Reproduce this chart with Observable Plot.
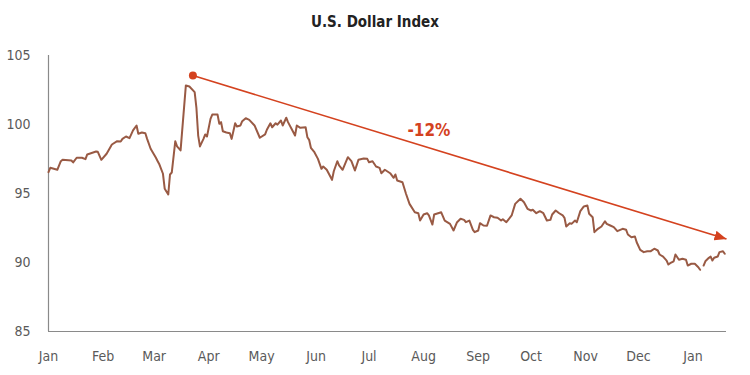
<!DOCTYPE html>
<html>
<head>
<meta charset="utf-8">
<script src="https://cdn.jsdelivr.net/npm/d3@7"></script>
<script src="https://cdn.jsdelivr.net/npm/@observablehq/plot@0.6"></script>
<style>
  html, body { margin: 0; padding: 0; background: #fff; }
  #title { height: 40px; line-height: 44px; text-align: center; font-family: 'Liberation Sans Narrow', 'DejaVu Sans Condensed', 'Roboto', sans-serif; font-weight: bold; font-size: 15px; color: #222; }
</style>
</head>
<body>
<div id="title">U.S. Dollar Index</div>
<div id="chart"></div>
<script>
const titleText = "U.S. Dollar Index";

const dates = [
"2020-01-01","2020-01-02","2020-01-06","2020-01-08","2020-01-09","2020-01-14","2020-01-15","2020-01-17","2020-01-20","2020-01-22","2020-01-23","2020-01-28","2020-01-29","2020-01-31",
"2020-02-03","2020-02-06","2020-02-09","2020-02-11","2020-02-12","2020-02-14","2020-02-16","2020-02-18","2020-02-20","2020-02-21","2020-02-23","2020-02-25","2020-02-26","2020-02-28",
"2020-03-02","2020-03-03","2020-03-04","2020-03-06","2020-03-07","2020-03-09","2020-03-10","2020-03-11","2020-03-13","2020-03-14","2020-03-16","2020-03-19","2020-03-21","2020-03-24","2020-03-25","2020-03-26","2020-03-27","2020-03-29","2020-03-30","2020-03-31",
"2020-04-02","2020-04-03","2020-04-06","2020-04-07","2020-04-08","2020-04-09","2020-04-11","2020-04-13","2020-04-14","2020-04-16","2020-04-17","2020-04-19","2020-04-20","2020-04-22","2020-04-24","2020-04-27","2020-04-30",
"2020-05-03","2020-05-04","2020-05-06","2020-05-07","2020-05-09","2020-05-10","2020-05-12","2020-05-13","2020-05-15","2020-05-16","2020-05-18","2020-05-20","2020-05-21","2020-05-23","2020-05-26","2020-05-27","2020-05-28","2020-05-29","2020-05-31",
"2020-06-02","2020-06-04","2020-06-05","2020-06-07","2020-06-10","2020-06-11","2020-06-13","2020-06-14","2020-06-16","2020-06-19","2020-06-21","2020-06-23","2020-06-25","2020-06-28","2020-06-30",
"2020-07-01","2020-07-03","2020-07-05","2020-07-07","2020-07-08","2020-07-10","2020-07-13","2020-07-15","2020-07-16","2020-07-17","2020-07-20","2020-07-22","2020-07-24","2020-07-27","2020-07-29","2020-07-30",
"2020-08-01","2020-08-03","2020-08-04","2020-08-06","2020-08-07","2020-08-11","2020-08-13","2020-08-16","2020-08-18","2020-08-20","2020-08-22","2020-08-24","2020-08-25","2020-08-27","2020-08-29","2020-08-30",
"2020-09-01","2020-09-02","2020-09-04","2020-09-06","2020-09-08","2020-09-10","2020-09-12","2020-09-14","2020-09-15","2020-09-17","2020-09-20","2020-09-22","2020-09-25","2020-09-27","2020-09-29",
"2020-10-01","2020-10-02","2020-10-04","2020-10-06","2020-10-08","2020-10-10","2020-10-12","2020-10-13","2020-10-15","2020-10-17","2020-10-19","2020-10-20","2020-10-21","2020-10-23","2020-10-24","2020-10-26","2020-10-27","2020-10-29","2020-10-31",
"2020-11-02","2020-11-03","2020-11-05","2020-11-06","2020-11-08","2020-11-10","2020-11-12","2020-11-13","2020-11-15","2020-11-17","2020-11-19","2020-11-22","2020-11-24","2020-11-25","2020-11-27","2020-11-29","2020-11-30",
"2020-12-02","2020-12-04","2020-12-06","2020-12-08","2020-12-10","2020-12-12","2020-12-13","2020-12-15","2020-12-17","2020-12-18","2020-12-19","2020-12-21","2020-12-22","2020-12-24","2020-12-26","2020-12-28","2020-12-29","2020-12-31",
"2021-01-02","2021-01-04","2021-01-05","2021-01-06","2021-01-07","2021-01-08","2021-01-10","2021-01-11","2021-01-12","2021-01-13","2021-01-15","2021-01-16","2021-01-18","2021-01-19"
];

const values = [
96.55,96.86,96.72,97.34,97.44,97.39,97.25,97.59,97.59,97.49,97.83,98.04,98.02,97.44,
97.88,98.55,98.79,98.77,98.96,99.13,99.01,99.57,99.93,99.33,99.42,99.37,98.96,98.24,
97.59,97.34,97.10,96.43,95.34,94.93,96.38,96.52,98.79,98.41,98.12,102.83,102.75,102.35,101.2,99.2,98.41,98.96,99.28,99.13,
100.41,100.72,100.72,100.05,100.17,99.51,99.42,99.37,98.96,100.09,99.86,99.93,100.24,100.46,100.34,99.93,99.04,
99.28,99.62,100.09,99.80,100.09,99.99,100.29,99.93,100.49,100.17,99.69,99.20,99.93,99.76,99.80,99.08,98.89,98.31,97.99,
97.51,96.79,96.96,96.72,95.99,96.61,97.34,97.03,96.72,97.63,97.34,96.67,97.44,97.54,97.51,
97.27,97.34,96.96,96.86,96.47,96.72,96.47,96.14,96.38,95.94,95.82,94.98,94.25,93.64,93.57,93.04,
93.48,93.57,93.41,92.75,93.48,93.64,93.04,92.80,92.32,92.92,93.17,93.09,92.92,93.04,92.37,92.20,
92.32,92.85,92.68,92.66,93.41,93.28,93.24,93.04,93.14,92.92,93.41,94.25,94.62,94.37,93.89,
93.77,93.82,93.57,93.72,93.57,93.04,93.09,93.48,93.77,93.57,93.41,93.24,92.61,92.85,92.80,93.04,92.92,93.72,94.06,
94.13,93.53,93.28,92.20,92.44,92.61,92.99,92.80,92.68,92.56,92.27,92.44,92.37,92.03,91.83,91.88,91.47,
90.92,90.75,90.82,90.82,91.00,90.87,90.58,90.43,90.14,89.85,89.95,90.09,90.58,90.20,90.27,90.20,89.78,89.91,
89.91,89.66,89.47,null,89.78,90.09,90.34,90.43,90.14,90.34,90.43,90.75,90.82,90.63
];

const yTicks = [85, 90, 95, 100, 105];
const monthTicks = ["2020-01-01","2020-02-01","2020-03-01","2020-04-01","2020-05-01","2020-06-01","2020-07-01","2020-08-01","2020-09-01","2020-10-01","2020-11-01","2020-12-01","2021-01-01"];
const monthLabels = ["Jan","Feb","Mar","Apr","May","Jun","Jul","Aug","Sep","Oct","Nov","Dec","Jan"];
const xDomain = ["2020-01-01", "2021-01-20"];
const yDomain = [85, 105];

// annotation: trend arrow and label
const arrowDates = ["2020-03-23", "2021-01-20"];
const arrowValues = [103.55, 91.7];
const labelDate = ["2020-08-04"];
const labelValue = [99.57];
const labelText = ["-12%"];

const data = dates.map((d, i) => ({date: new Date(d), value: values[i]}));
const arrowData = [{x1: new Date(arrowDates[0]), y1: arrowValues[0], x2: new Date(arrowDates[1]), y2: arrowValues[1]}];
const labelData = labelText.map((t, i) => ({date: new Date(labelDate[i]), value: labelValue[i], text: t}));

const lineColor = "#995a44";
const red = "#d4421f";
const fontFam = "'Liberation Sans Narrow', 'DejaVu Sans Condensed', 'Roboto', sans-serif";

const chart = Plot.plot({
  width: 750,
  height: 335,
  marginTop: 15,
  marginBottom: 44,
  marginLeft: 48,
  marginRight: 24,
  style: {fontFamily: fontFam, fontSize: "14px", color: "#5a5a5a", background: "white"},
  x: {type: "utc", domain: xDomain.map(d => new Date(d)), ticks: monthTicks.map(d => new Date(d)),
      tickFormat: (d, i) => monthLabels[i], tickSize: 0, tickPadding: 20, label: null},
  y: {domain: yDomain, ticks: yTicks, tickSize: 0, tickPadding: 18, label: null},
  marks: [
    Plot.ruleY([yDomain[0]], {stroke: "#8a8a8a", strokeWidth: 1.2}),
    Plot.ruleX([new Date(xDomain[0])], {y1: yDomain[0], y2: yDomain[1], stroke: "#8a8a8a", strokeWidth: 1.2}),
    Plot.line(data, {x: "date", y: "value", stroke: lineColor, strokeWidth: 2}),
    Plot.link(arrowData, {x1: "x1", y1: "y1", x2: "x2", y2: "y2", stroke: red, strokeWidth: 1.6}),
    Plot.dot(arrowData, {x: "x1", y: "y1", r: 4, fill: red}),
    Plot.text(labelData, {x: "date", y: "value", text: "text", fill: red, fontWeight: "bold", fontSize: 17})
  ]
});

// filled arrowhead on the trend link
const svg = d3.select(chart.tagName.toLowerCase() === "svg" ? chart : chart.querySelector("svg"));
const defs = svg.insert("defs", ":first-child");
defs.append("marker")
  .attr("id", "trend-head")
  .attr("viewBox", "0 0 12 10")
  .attr("refX", 12).attr("refY", 5)
  .attr("markerWidth", 12).attr("markerHeight", 10)
  .attr("markerUnits", "userSpaceOnUse")
  .attr("orient", "auto")
  .append("path").attr("d", "M0,0L12,5L0,10Z").attr("fill", red);
svg.selectAll('g[aria-label="link"] path, g[aria-label="link"] line').attr("marker-end", "url(#trend-head)");

document.getElementById("chart").appendChild(chart);
</script>
</body>
</html>
